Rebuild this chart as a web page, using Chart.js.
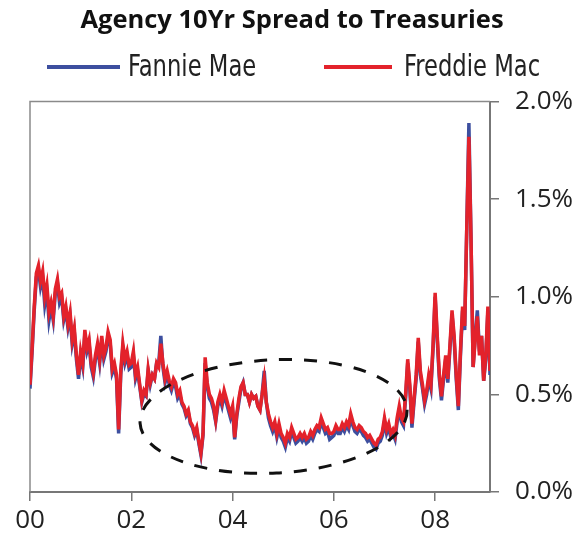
<!DOCTYPE html>
<html>
<head>
<meta charset="utf-8">
<script src="https://cdn.jsdelivr.net/npm/chart.js@4.4.0/dist/chart.umd.min.js"></script>
<style>
html, body { margin: 0; padding: 0; background: #fff; }
#wrap { width: 584px; height: 541px; }
</style>
</head>
<body>
<div id="wrap"><canvas id="spreadChart" width="584" height="541"></canvas></div>
<script>
// semi-monthly readings, Jan 2000 - Feb 2009, spread in % over Treasuries
const fannieMae = [
    0.53, 0.72, 0.93, 1.10, 1.14, 1.05, 1.10, 0.96, 1.03, 0.88, 0.95, 0.88, 1.02, 1.07, 0.97, 1.00, 0.88, 0.93, 0.84, 0.90, 0.76, 0.82, 0.68, 0.58,
    0.70, 0.64, 0.81, 0.72, 0.76, 0.64, 0.59, 0.68, 0.74, 0.66, 0.78, 0.68, 0.72, 0.80, 0.76, 0.61, 0.64, 0.58, 0.30, 0.60, 0.74, 0.66, 0.70, 0.63,
    0.64, 0.70, 0.58, 0.62, 0.54, 0.46, 0.50, 0.49, 0.62, 0.55, 0.60, 0.58, 0.66, 0.66, 0.80, 0.64, 0.56, 0.60, 0.55, 0.52, 0.56, 0.54, 0.48, 0.50,
    0.45, 0.43, 0.39, 0.41, 0.35, 0.33, 0.29, 0.32, 0.25, 0.19, 0.29, 0.66, 0.54, 0.48, 0.46, 0.42, 0.36, 0.44, 0.48, 0.44, 0.50, 0.46, 0.42, 0.38,
    0.42, 0.27, 0.39, 0.46, 0.53, 0.56, 0.50, 0.50, 0.46, 0.50, 0.48, 0.49, 0.44, 0.42, 0.50, 0.62, 0.46, 0.38, 0.34, 0.31, 0.34, 0.28, 0.33, 0.28,
    0.26, 0.23, 0.28, 0.26, 0.31, 0.28, 0.25, 0.26, 0.28, 0.26, 0.28, 0.25, 0.26, 0.29, 0.27, 0.30, 0.32, 0.31, 0.36, 0.33, 0.30, 0.31, 0.27, 0.28,
    0.29, 0.32, 0.30, 0.30, 0.33, 0.31, 0.34, 0.32, 0.38, 0.34, 0.31, 0.30, 0.32, 0.31, 0.29, 0.28, 0.26, 0.27, 0.25, 0.23, 0.22, 0.25, 0.26, 0.29,
    0.36, 0.30, 0.33, 0.28, 0.30, 0.27, 0.36, 0.42, 0.36, 0.34, 0.48, 0.66, 0.53, 0.33, 0.46, 0.58, 0.77, 0.60, 0.53, 0.45, 0.50, 0.58, 0.53, 0.73,
    1.00, 0.78, 0.58, 0.47, 0.58, 0.68, 0.56, 0.73, 0.91, 0.78, 0.58, 0.42, 0.70, 0.93, 0.83, 1.36, 1.89, 1.30, 0.64, 0.80, 0.93, 0.72, 0.80, 0.57,
    0.68, 0.93, 0.60
];

const freddieMac = [
    0.55, 0.74, 0.95, 1.12, 1.16, 1.08, 1.13, 1.00, 1.06, 0.92, 0.97, 0.90, 1.04, 1.09, 1.00, 1.02, 0.90, 0.95, 0.86, 0.92, 0.78, 0.84, 0.70, 0.60,
    0.72, 0.66, 0.83, 0.74, 0.78, 0.66, 0.61, 0.70, 0.76, 0.68, 0.80, 0.70, 0.74, 0.82, 0.78, 0.63, 0.66, 0.60, 0.32, 0.62, 0.76, 0.68, 0.72, 0.65,
    0.66, 0.72, 0.60, 0.64, 0.55, 0.47, 0.52, 0.50, 0.63, 0.56, 0.60, 0.58, 0.66, 0.64, 0.76, 0.66, 0.58, 0.62, 0.57, 0.54, 0.58, 0.56, 0.50, 0.52,
    0.46, 0.44, 0.40, 0.42, 0.36, 0.34, 0.30, 0.33, 0.26, 0.20, 0.30, 0.69, 0.56, 0.50, 0.48, 0.44, 0.37, 0.46, 0.50, 0.46, 0.52, 0.48, 0.44, 0.40,
    0.44, 0.28, 0.40, 0.48, 0.54, 0.56, 0.50, 0.50, 0.46, 0.50, 0.48, 0.49, 0.44, 0.42, 0.50, 0.58, 0.46, 0.40, 0.36, 0.33, 0.36, 0.30, 0.35, 0.30,
    0.28, 0.25, 0.30, 0.28, 0.33, 0.30, 0.27, 0.28, 0.30, 0.28, 0.30, 0.27, 0.28, 0.31, 0.29, 0.32, 0.34, 0.33, 0.38, 0.35, 0.32, 0.33, 0.30, 0.30,
    0.31, 0.34, 0.32, 0.32, 0.35, 0.33, 0.36, 0.34, 0.40, 0.36, 0.33, 0.32, 0.34, 0.33, 0.31, 0.30, 0.28, 0.29, 0.27, 0.25, 0.24, 0.27, 0.28, 0.31,
    0.38, 0.32, 0.35, 0.30, 0.32, 0.29, 0.38, 0.44, 0.38, 0.36, 0.50, 0.68, 0.55, 0.35, 0.48, 0.60, 0.79, 0.62, 0.55, 0.47, 0.52, 0.60, 0.55, 0.75,
    1.02, 0.80, 0.60, 0.49, 0.60, 0.70, 0.58, 0.75, 0.93, 0.80, 0.60, 0.44, 0.72, 0.95, 0.85, 1.36, 1.82, 1.30, 0.64, 0.78, 0.90, 0.70, 0.80, 0.57,
    0.70, 0.95, 0.62
];

const seriesNames = ['Fannie Mae', 'Freddie Mac'];
const yearTicks = [2000, 2002, 2004, 2006, 2008];
const spreadTicks = [0, 0.5, 1.0, 1.5, 2.0];
const periods = freddieMac.map((_, i) => 2000 + i / 24);

// dashed ring around the quiet 2002-2007 stretch, in data units
const ring = { year: 2004.81, spread: 0.387, halfYears: 2.64, halfSpread: 0.29 };

const BLUE = '#3d4f9f';
const RED = '#e3222b';
const TICK_FONT = { family: "'Open Sans', sans-serif", size: 26 };
const LEGEND_FONT = "30px 'DejaVu Sans Condensed', 'DejaVu Sans', sans-serif";

// FRAME (top + left edges of the plot box)
const frame = {
    id: 'frame',
    beforeDatasetsDraw(chart) {
        const { ctx, chartArea: a } = chart;
        ctx.save();
        ctx.strokeStyle = '#8a8a8a';
        ctx.lineWidth = 1.5;
        ctx.beginPath();
        ctx.moveTo(a.left, a.bottom);
        ctx.lineTo(a.left, a.top);
        ctx.lineTo(a.right, a.top);
        ctx.stroke();
        ctx.restore();
    }
};

// LEGEND ROW (text squeezed a little, like the condensed face in the original)
const legendRow = {
    id: 'legendRow',
    afterDraw(chart) {
        const ctx = chart.ctx;
        const slots = [{ x: 47, w: 73, tx: 128 }, { x: 324, w: 68, tx: 404 }];
        ctx.save();
        chart.data.datasets.forEach((ds, i) => {
            const s = slots[i];
            ctx.strokeStyle = ds.borderColor;
            ctx.lineWidth = 4;
            ctx.beginPath();
            ctx.moveTo(s.x, 67);
            ctx.lineTo(s.x + s.w, 67);
            ctx.stroke();
            ctx.save();
            ctx.translate(s.tx, 76);
            ctx.scale(0.84, 1);
            ctx.fillStyle = '#222';
            ctx.font = LEGEND_FONT;
            ctx.textBaseline = 'alphabetic';
            ctx.fillText(ds.label, 0, 0);
            ctx.restore();
        });
        ctx.restore();
    }
};

// DASHED RING
const ringPlugin = {
    id: 'ring',
    afterDatasetsDraw(chart) {
        const { ctx, scales } = chart;
        const cx = scales.x.getPixelForValue(ring.year);
        const cy = scales.y.getPixelForValue(ring.spread);
        const rx = scales.x.getPixelForValue(ring.year + ring.halfYears) - cx;
        const ry = cy - scales.y.getPixelForValue(ring.spread + ring.halfSpread);
        ctx.save();
        ctx.strokeStyle = '#111';
        ctx.lineWidth = 3;
        ctx.setLineDash([13, 12]);
        ctx.beginPath();
        ctx.ellipse(cx, cy, rx, ry, -0.05, 0, Math.PI * 2);
        ctx.stroke();
        ctx.restore();
    }
};

const ctx = document.getElementById('spreadChart');

new Chart(ctx, {
    type: 'line',
    data: {
        datasets: [{
            label: seriesNames[0],
            data: periods.map((x, i) => ({ x: x, y: fannieMae[i] })),
            borderColor: BLUE,
            backgroundColor: BLUE,
            borderWidth: 3.5,
            pointRadius: 0,
            tension: 0,
            order: 1
        }, {
            label: seriesNames[1],
            data: periods.map((x, i) => ({ x: x, y: freddieMac[i] })),
            borderColor: RED,
            backgroundColor: RED,
            borderWidth: 3.5,
            pointRadius: 0,
            tension: 0,
            order: 0
        }]
    },
    options: {
        responsive: false,
        animation: false,
        devicePixelRatio: 1,
        layout: { padding: 0 },
        plugins: {
            legend: { display: false },
            tooltip: { enabled: false },
            title: {
                display: true,
                text: 'Agency 10Yr Spread to Treasuries',
                color: '#111',
                font: { family: "'Open Sans', sans-serif", size: 25.5, weight: 'bold', lineHeight: 1.2 },
                padding: { top: 5, bottom: 66 }
            }
        },
        scales: {
            x: {
                type: 'linear',
                min: periods[0],
                max: periods[periods.length - 1],
                afterBuildTicks: s => { s.ticks = yearTicks.map(v => ({ value: v })); },
                afterFit: s => { s.height = 49; },
                ticks: {
                    callback: v => String(v).slice(2),
                    color: '#222',
                    font: TICK_FONT,
                    padding: 4,
                    maxRotation: 0,
                    autoSkip: false
                },
                grid: { drawOnChartArea: false, drawTicks: true, tickLength: 9, color: '#777', lineWidth: 1.5 },
                border: { color: '#777', width: 2 }
            },
            y: {
                position: 'right',
                min: 0,
                max: 2,
                afterBuildTicks: s => { s.ticks = spreadTicks.map(v => ({ value: v })); },
                afterFit: s => { s.width = 94; },
                ticks: {
                    callback: v => v.toFixed(1) + '%',
                    color: '#222',
                    font: TICK_FONT,
                    padding: 16
                },
                grid: { drawOnChartArea: false, drawTicks: true, tickLength: 9, color: '#777', lineWidth: 1.5 },
                border: { color: '#777', width: 2 }
            },
            // empty left gutter so the plot starts where the original does
            gutter: {
                type: 'linear',
                position: 'left',
                afterFit: s => { s.width = 30; },
                ticks: { display: false },
                grid: { display: false },
                border: { display: false }
            }
        }
    },
    plugins: [frame, legendRow, ringPlugin]
});
</script>
</body>
</html>
